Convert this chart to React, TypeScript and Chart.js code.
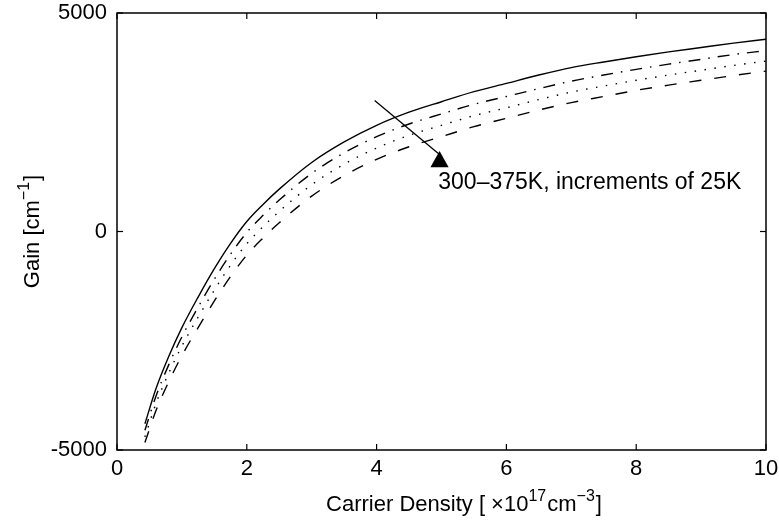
import React, { useEffect, useRef } from "react";
import { Chart, registerables } from "chart.js";

Chart.register(...registerables);

// Carrier density [x10^17 cm^-3]
const DENSITY = [0.43, 0.6, 0.8, 1.0, 1.25, 1.5, 1.75, 2.0, 2.25, 2.5, 3.0, 3.5, 4.0, 4.5, 5.0, 5.5, 6.0, 6.5, 7.0, 7.5, 8.0, 8.5, 9.0, 9.5, 10.0];
// Gain [cm^-1] at 300K, 325K, 350K, 375K
const GAIN_300K = [-4400, -3600, -2850, -2200, -1500, -850, -270, 230, 620, 970, 1580, 2050, 2430, 2730, 2970, 3200, 3390, 3580, 3750, 3880, 4000, 4110, 4210, 4310, 4400];
const GAIN_325K = [-4550, -3770, -3040, -2410, -1730, -1090, -520, -20, 370, 720, 1330, 1800, 2170, 2460, 2690, 2910, 3090, 3270, 3440, 3580, 3710, 3830, 3940, 4050, 4140];
const GAIN_350K = [-4700, -3940, -3230, -2620, -1960, -1340, -770, -280, 110, 460, 1070, 1540, 1910, 2200, 2430, 2650, 2830, 3020, 3190, 3330, 3460, 3580, 3690, 3800, 3900];
const GAIN_375K = [-4830, -4100, -3430, -2840, -2200, -1590, -1030, -540, -150, 200, 810, 1280, 1650, 1940, 2170, 2400, 2590, 2780, 2950, 3090, 3230, 3350, 3460, 3570, 3670];

const X_TICKS = [0, 2, 4, 6, 8, 10];
const Y_TICKS = [-5000, 0, 5000];

const ANNOTATION_TEXT = "300\u2013375K, increments of 25K";
const ANNOTATION_POS = { x: 4.95, y: 1110 };
const ARROW_START = { x: 3.97, y: 3000 };
const ARROW_END = { x: 4.97, y: 1760 };
const ARROW_HEAD = [
  { x: 4.97, y: 1840 },
  { x: 4.83, y: 1470 },
  { x: 5.11, y: 1470 },
];

const FONT_FAMILY = '"Liberation Sans", Arial, Helvetica, sans-serif';
const FONT_SIZE = 22;
const SUP_SIZE = 16;

type Part = { t?: string; sup?: boolean; gap?: number };

function drawRich(ctx: CanvasRenderingContext2D, parts: Part[], x0: number, cy: number, align: "left" | "center") {
  const main = `${FONT_SIZE}px ${FONT_FAMILY}`;
  const sup = `${SUP_SIZE}px ${FONT_FAMILY}`;
  let total = 0;
  const widths = parts.map((p) => {
    if (p.gap) {
      total += p.gap;
      return p.gap;
    }
    ctx.font = p.sup ? sup : main;
    const w = ctx.measureText(p.t || "").width;
    total += w;
    return w;
  });
  let x = align === "center" ? x0 - total / 2 : x0;
  ctx.textBaseline = "middle";
  ctx.textAlign = "left";
  parts.forEach((p, i) => {
    if (p.t) {
      ctx.font = p.sup ? sup : main;
      ctx.fillText(p.t, x, p.sup ? cy - 8 : cy);
    }
    x += widths[i];
  });
}

const framePlugin = {
  id: "frameAndLabels",
  afterDraw(chart: any) {
    const { ctx, chartArea, scales } = chart;
    const { left, right, top, bottom } = chartArea;
    const xs = scales.x;
    const ys = scales.y;
    ctx.save();
    ctx.strokeStyle = "#000";
    ctx.fillStyle = "#000";
    ctx.setLineDash([]);
    ctx.lineWidth = 1.5;
    ctx.strokeRect(left, top, right - left, bottom - top);
    ctx.lineWidth = 1.2;
    const seg = (a: number, b: number, c: number, d: number) => {
      ctx.beginPath();
      ctx.moveTo(a, b);
      ctx.lineTo(c, d);
      ctx.stroke();
    };
    X_TICKS.forEach((v) => {
      const px = xs.getPixelForValue(v);
      seg(px, bottom, px, bottom - 6);
      seg(px, top, px, top + 6);
    });
    Y_TICKS.forEach((v) => {
      const py = ys.getPixelForValue(v);
      seg(left, py, left + 6, py);
      seg(right, py, right - 6, py);
    });

    // arrow
    ctx.lineWidth = 1.3;
    seg(
      xs.getPixelForValue(ARROW_START.x),
      ys.getPixelForValue(ARROW_START.y),
      xs.getPixelForValue(ARROW_END.x),
      ys.getPixelForValue(ARROW_END.y)
    );
    ctx.beginPath();
    ARROW_HEAD.forEach((p, i) => {
      const px = xs.getPixelForValue(p.x);
      const py = ys.getPixelForValue(p.y);
      if (i === 0) ctx.moveTo(px, py);
      else ctx.lineTo(px, py);
    });
    ctx.closePath();
    ctx.fill();

    // annotation text
    ctx.font = `23px ${FONT_FAMILY}`;
    ctx.textAlign = "left";
    ctx.textBaseline = "middle";
    ctx.fillText(ANNOTATION_TEXT, xs.getPixelForValue(ANNOTATION_POS.x), ys.getPixelForValue(ANNOTATION_POS.y));

    // x title
    drawRich(
      ctx,
      [
        { t: "Carrier Density [ \u00d710" },
        { t: "17", sup: true },
        { gap: 1 },
        { t: "cm" },
        { t: "\u22123", sup: true },
        { gap: 1 },
        { t: "]" },
      ],
      464,
      505,
      "center"
    );
    // y title
    ctx.save();
    ctx.translate(33, (top + bottom) / 2);
    ctx.rotate(-Math.PI / 2);
    drawRich(ctx, [{ t: "Gain [cm" }, { t: "\u22121", sup: true }, { gap: 1 }, { t: "]" }], 0, 0, "center");
    ctx.restore();
    ctx.restore();
  },
};

export default function App() {
  const ref = useRef<HTMLCanvasElement | null>(null);
  useEffect(() => {
    if (!ref.current) return;
    const mk = (data: number[], dash: number[], width: number) => ({
      data: DENSITY.map((x, i) => ({ x, y: data[i] })),
      borderColor: "#000",
      borderWidth: width,
      borderDash: dash,
      pointRadius: 0,
      fill: false,
      cubicInterpolationMode: "monotone" as const,
    });
    const tickFont = { family: FONT_FAMILY, size: FONT_SIZE };
    const chart = new Chart(ref.current, {
      type: "line",
      data: {
        datasets: [
          mk(GAIN_300K, [], 1.4),
          mk(GAIN_325K, [12, 8, 1.5, 8], 1.4),
          mk(GAIN_350K, [1.5, 8.5], 1.4),
          mk(GAIN_375K, [12, 13], 1.4),
        ],
      },
      options: {
        responsive: false,
        animation: false,
        devicePixelRatio: 1,
        layout: { padding: { top: 13, right: 13, left: 0, bottom: 0 } },
        plugins: { legend: { display: false }, tooltip: { enabled: false } },
        scales: {
          x: {
            type: "linear",
            min: 0,
            max: 10,
            afterBuildTicks: (s: any) => {
              s.ticks = X_TICKS.map((v) => ({ value: v }));
            },
            afterFit: (s: any) => {
              s.height = 71;
              s.paddingLeft = 0;
              s.paddingRight = 0;
            },
            grid: { display: false, drawTicks: false },
            border: { display: false },
            ticks: { font: tickFont, color: "#000", padding: 6, maxRotation: 0, callback: (v: any) => String(v) },
          },
          y: {
            type: "linear",
            min: -5000,
            max: 5000,
            afterBuildTicks: (s: any) => {
              s.ticks = Y_TICKS.map((v) => ({ value: v }));
            },
            afterFit: (s: any) => {
              s.width = 117;
              s.paddingTop = 0;
              s.paddingBottom = 0;
            },
            grid: { display: false, drawTicks: false },
            border: { display: false },
            ticks: { font: tickFont, color: "#000", padding: 10, callback: (v: any) => String(v) },
          },
        },
      },
      plugins: [framePlugin],
    });
    return () => chart.destroy();
  }, []);
  return (
    <div style={{ position: "fixed", left: 0, top: 0, width: 779, height: 521, background: "#fff" }}>
      <canvas ref={ref} width={779} height={521} style={{ display: "block", width: 779, height: 521 }} />
    </div>
  );
}
